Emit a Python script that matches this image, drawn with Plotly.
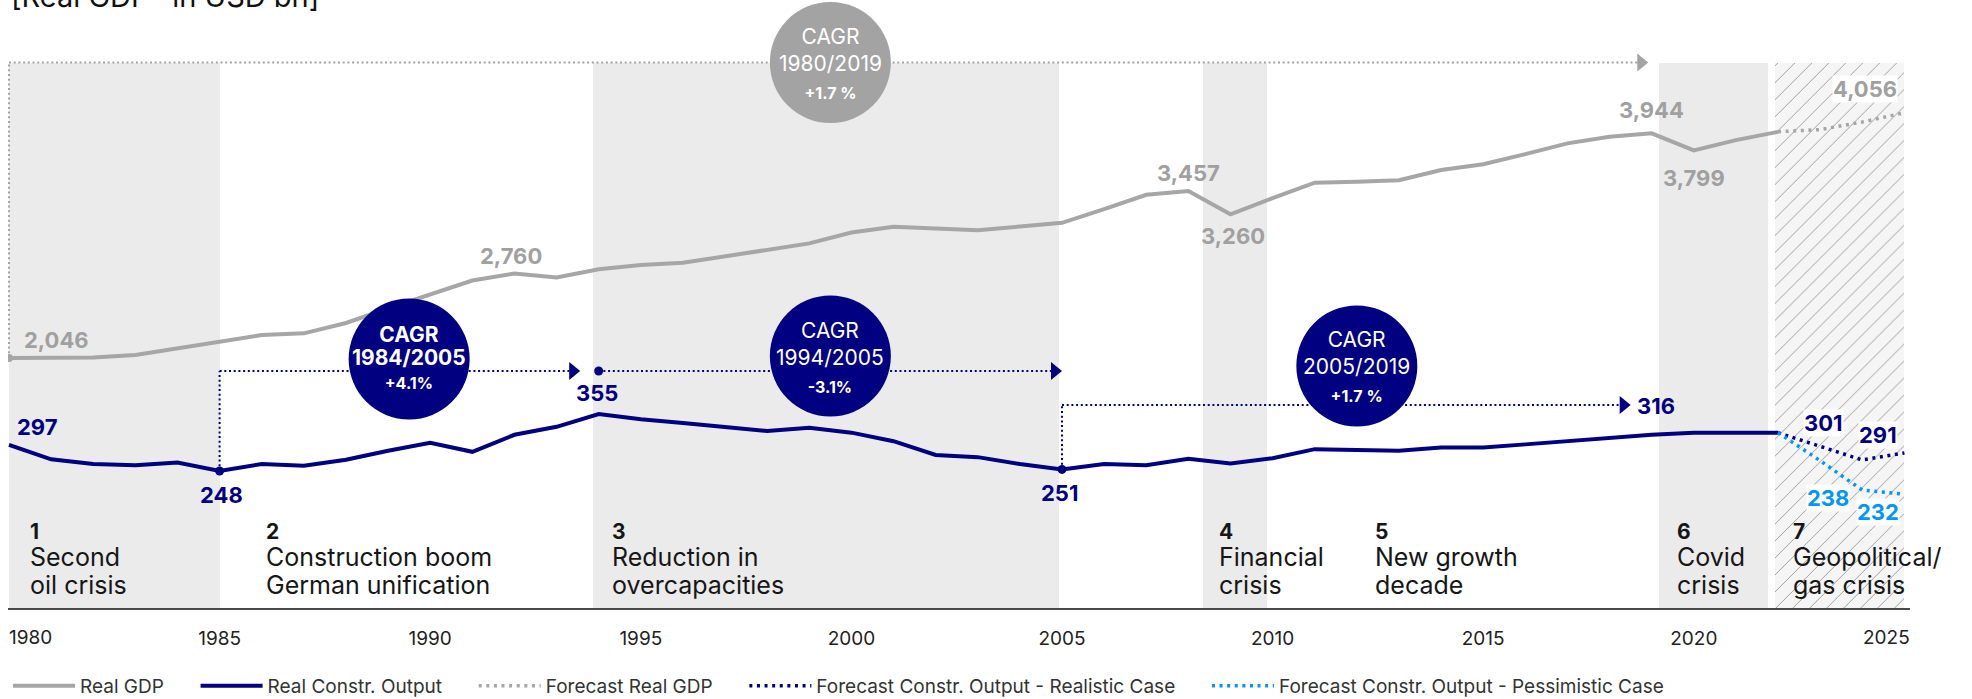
import plotly.graph_objects as go

# ---------------- data ----------------
years = list(range(1980, 2023))
real_gdp = [2046, 2046, 2050, 2071, 2128, 2184, 2240, 2254, 2342, 2465,
            2585, 2700, 2760, 2727, 2795, 2831, 2850, 2907, 2963, 3014,
            3106, 3154, 3140, 3126, 3157, 3188, 3303, 3425, 3457, 3260,
            3396, 3527, 3535, 3547, 3634, 3682, 3768, 3859, 3915, 3944,
            3799, 3886, 3956]
real_constr = [297, 270, 261, 259, 264, 248, 261, 258, 269, 286,
               301, 284, 316, 331, 355, 345, 338, 331, 323, 329,
               320, 304, 278, 274, 261, 251, 261, 259, 271, 262,
               272, 289, 288, 286, 292, 292, 298, 304, 310, 316,
               320, 320, 320]
fc_years = [2022, 2023, 2024, 2025]
fc_gdp = [3956, 3967, 4007, 4056]
fc_realistic = [320, 301, 281, 291]
fc_pessimistic = [320, 280, 238, 232]

tick_years = [1980, 1985, 1990, 1995, 2000, 2005, 2010, 2015, 2020, 2025]

phase_numbers = ["1", "2", "3", "4", "5", "6", "7"]
phase_lines = [["Second", "oil crisis"], ["Construction boom", "German unification"],
               ["Reduction in", "overcapacities"], ["Financial", "crisis"],
               ["New growth", "decade"], ["Covid", "crisis"], ["Geopolitical/", "gas crisis"]]
band_from = [1980.0, 1993.86, 2008.35, 2019.17, 2021.92]
band_to = [1985.0, 2004.93, 2009.87, 2021.76, 2025.0]
band_hatched = [False, False, False, False, True]

cagr_periods = ["1980/2019", "1984/2005", "1994/2005", "2005/2019"]
cagr_values = ["+1.7 %", "+4.1%", "-3.1%", "+1.7 %"]
cagr_from = [1980, 1985, 1994, 2005]
cagr_to = [2019, 1994, 2005, 2019]

gdp_label_years = [1980, 1992, 2008, 2009, 2019, 2020]
constr_label_years = [1980, 1985, 1994, 2005]

legend_names = ["Real GDP", "Real Constr. Output", "Forecast Real GDP",
                "Forecast Constr. Output - Realistic Case",
                "Forecast Constr. Output - Pessimistic Case"]
title_text = "[Real GDP* in USD bn]"

# ---------------- layout / style ----------------
W, H = 1972, 699
ML, MR, MT, MB = 8, 62, 0, 91
PW, PH = W - ML - MR, H - MT - MB
X_RANGE = [1979.976, 2025.133]
PX_PER_YEAR = PW / (X_RANGE[1] - X_RANGE[0])

FONT = "Inter, Lato, sans-serif"
NAVY = "#000080"
LIGHT = "#0096FF"
GRAY_LINE = "#A6A6A6"
GRAY_TXT = "#A0A0A0"
GRAY_CIRCLE = "#A3A3A3"
BAND = "#EBEBEB"
HATCH_BG = "#F5F5F5"
HATCH_FG = "#C4C4C4"
TXT = "#161616"

# axis calibrations: (value, pixel row, pixels per unit)
CAL_GDP = (2046, 358.0, 0.11839)
CAL_CON = (248, 471.0, 0.5327)
CAL_GDP_FC = (3956, 131.7, 0.19)
CAL_CON_FC = (320, 432.7, 0.70)


def rng(cal):
    v0, p0, k = cal
    return [v0 - (MT + PH - p0) / k, v0 + (p0 - MT) / k]


def to_px(v, cal):
    v0, p0, k = cal
    return p0 - (v - v0) * k


def py(p):
    return 1 - (p - MT) / PH


def yrs(px):
    return px / PX_PER_YEAR


BAND_TOP_PX = 62.5
fig = go.Figure()

# shaded phases
fig.add_trace(go.Bar(
    x=[(a + b) / 2 for a, b in zip(band_from, band_to)],
    y=[py(BAND_TOP_PX)] * len(band_from),
    width=[b - a for a, b in zip(band_from, band_to)],
    base=0,
    marker=dict(color=[HATCH_BG if h else BAND for h in band_hatched],
                line=dict(width=0),
                pattern=dict(shape=["/" if h else "" for h in band_hatched],
                             fgcolor=HATCH_FG, size=12, solidity=0.08,
                             fillmode="overlay")),
    showlegend=False, hoverinfo="skip", yaxis="y"))

DOT_TRACE = "3px,4.6px"
PAD = "\u00a0" * 5
fig.add_trace(go.Scatter(x=years, y=real_gdp, mode="lines", name=legend_names[0] + PAD,
                         line=dict(color=GRAY_LINE, width=4), yaxis="y2"))
fig.add_trace(go.Scatter(x=years, y=real_constr, mode="lines", name=legend_names[1] + PAD,
                         line=dict(color=NAVY, width=4), yaxis="y3"))
fig.add_trace(go.Scatter(x=fc_years, y=fc_gdp, mode="lines", name=legend_names[2] + PAD,
                         line=dict(color=GRAY_LINE, width=3.5, dash=DOT_TRACE), yaxis="y4"))
fig.add_trace(go.Scatter(x=fc_years, y=fc_realistic, mode="lines", name=legend_names[3] + PAD,
                         line=dict(color=NAVY, width=3.5, dash=DOT_TRACE), yaxis="y5"))
fig.add_trace(go.Scatter(x=fc_years, y=fc_pessimistic, mode="lines", name=legend_names[4],
                         line=dict(color=LIGHT, width=3.5, dash=DOT_TRACE), yaxis="y5"))

# start markers of CAGR arrows
fig.add_trace(go.Scatter(x=[cagr_from[0]], y=[real_gdp[years.index(cagr_from[0])]],
                         mode="markers", marker=dict(color=GRAY_LINE, size=8),
                         showlegend=False, hoverinfo="skip", yaxis="y2"))
fig.add_trace(go.Scatter(x=[cagr_from[1], cagr_from[3]],
                         y=[real_constr[years.index(cagr_from[1])], real_constr[years.index(cagr_from[3])]],
                         mode="markers", marker=dict(color=NAVY, size=9),
                         showlegend=False, hoverinfo="skip", yaxis="y3"))

# ---------------- CAGR arrows & circles ----------------
shapes = []
DOT_DECOR = "2px,2.7px"
cagr_level_px = [62.5, 371.0, 371.0, 405.0]
cagr_circle_px = [62.5, 359.0, 356.0, 366.0]
cagr_tip_gap_px = [3.4, 18.5, 0.0, 21.0]
cagr_start_px = [to_px(real_gdp[years.index(cagr_from[0])], CAL_GDP),
                 to_px(real_constr[years.index(cagr_from[1])], CAL_CON),
                 None,
                 to_px(real_constr[years.index(cagr_from[3])], CAL_CON)]
cagr_colors = [GRAY_CIRCLE, NAVY, NAVY, NAVY]
ARROW_W, ARROW_H = 11, 9
R = 60.5
for i in range(4):
    col = cagr_colors[i]
    lvl = py(cagr_level_px[i])
    tip = cagr_to[i] - yrs(cagr_tip_gap_px[i])
    if cagr_start_px[i] is not None:
        shapes.append(dict(type="line", xref="x", yref="paper", x0=cagr_from[i], x1=cagr_from[i],
                           y0=py(cagr_start_px[i]), y1=lvl, layer="above",
                           line=dict(color=col, width=2, dash=DOT_DECOR)))
    else:
        shapes.append(dict(type="circle", xref="x", yref="paper", xsizemode="pixel", ysizemode="pixel",
                           xanchor=cagr_from[i], yanchor=lvl, x0=-4.5, x1=4.5, y0=-4.5, y1=4.5,
                           fillcolor=col, line=dict(width=0), layer="above"))
    shapes.append(dict(type="line", xref="x", yref="paper", x0=cagr_from[i], x1=tip - yrs(ARROW_W),
                       y0=lvl, y1=lvl, layer="above", line=dict(color=col, width=2, dash=DOT_DECOR)))
    shapes.append(dict(type="path", xref="x", yref="paper", xsizemode="pixel", ysizemode="pixel",
                       xanchor=tip, yanchor=lvl,
                       path=f"M0,0 L{-ARROW_W},{ARROW_H} L{-ARROW_W},{-ARROW_H} Z",
                       fillcolor=col, line=dict(width=0), layer="above"))
for i in range(4):
    cx = (cagr_from[i] + cagr_to[i]) / 2
    shapes.append(dict(type="circle", xref="x", yref="paper", xsizemode="pixel", ysizemode="pixel",
                       xanchor=cx, yanchor=py(cagr_circle_px[i]), x0=-R, x1=R, y0=-R, y1=R,
                       fillcolor=cagr_colors[i], line=dict(width=0), layer="above"))

annotations = []
cagr_text_dy = [0.5, -1.7, 1.0, 1.0]
for i in range(4):
    cx = (cagr_from[i] + cagr_to[i]) / 2
    if i == 1:
        txt = (f"<b><span style='font-size:21px'>CAGR</span></b><br>"
               f"<b><span style='font-size:21px'>{cagr_periods[i]}</span></b><br>"
               f"<b><span style='font-size:16px'>{cagr_values[i]}</span></b>")
        base = 18
    else:
        txt = (f"CAGR<br>{cagr_periods[i]}<br>"
               f"<b><span style='font-size:16px'>{cagr_values[i]}</span></b>")
        base = 21
    annotations.append(dict(x=cx, y=py(cagr_circle_px[i] + cagr_text_dy[i]), xref="x", yref="paper",
                            text=txt, showarrow=False, xanchor="center", yanchor="middle",
                            font=dict(family=FONT, size=base, color="white")))

# ---------------- value labels ----------------


def label(x, y, yref, text, color, dx, dy, bg=None):
    d = dict(x=x, y=y, xref="x", yref=yref, text=f"<b>{text}</b>", showarrow=False,
             xshift=dx, yshift=dy, font=dict(family=FONT, size=22, color=color),
             xanchor="center", yanchor="middle")
    if bg:
        d.update(bgcolor=bg, borderpad=0)
    return d


gdp_offsets = [(47, 18), (-3, 17), (0, 18), (2.5, -21.5), (0, 23), (0, -28)]
for yr, (dx, dy) in zip(gdp_label_years, gdp_offsets):
    v = real_gdp[years.index(yr)]
    annotations.append(label(yr, v, "y2", f"{v:,}", GRAY_TXT, dx, dy))
constr_offsets = [(28, 18), (1.5, -23.5), (-1.5, 21.5), (-2.7, -24)]
for yr, (dx, dy) in zip(constr_label_years, constr_offsets):
    v = real_constr[years.index(yr)]
    annotations.append(label(yr, v, "y3", f"{v:,}", NAVY, dx, dy))
v2019 = real_constr[years.index(2019)]
annotations.append(label(2019, v2019, "y3", f"{v2019:,}", NAVY, 4, 28.5))
annotations.append(label(fc_years[3], fc_gdp[3], "y4", f"{fc_gdp[3]:,}", GRAY_TXT, -39, 24, "white"))
annotations.append(label(fc_years[1], fc_realistic[1], "y5", f"{fc_realistic[1]}", NAVY, 3, 23, "white"))
annotations.append(label(fc_years[3], fc_realistic[3], "y5", f"{fc_realistic[3]}", NAVY, -26, 18, "white"))
annotations.append(label(fc_years[2], fc_pessimistic[2], "y5", f"{fc_pessimistic[2]}", LIGHT, -34, -7.5, "white"))
annotations.append(label(fc_years[3], fc_pessimistic[3], "y5", f"{fc_pessimistic[3]}", LIGHT, -26, -18, "white"))

# ---------------- phase texts (one block per phase) ----------------
phase_text_x = [1980.51, 1986.10, 1994.32, 2008.73, 2012.44, 2019.60, 2022.36]
PHASE_MID_PX = 559.5
for num, lines, x in zip(phase_numbers, phase_lines, phase_text_x):
    txt = f"<b>{num}</b>" + "".join(f"<br><span style='font-size:25px'>{ln}</span>" for ln in lines)
    annotations.append(dict(x=x, y=py(PHASE_MID_PX), xref="x", yref="paper", text=txt, align="left",
                            showarrow=False, xanchor="left", yanchor="middle", xshift=-2,
                            font=dict(family=FONT, size=21, color=TXT)))

# first / last x tick labels kept inside the frame
TICK_PX = 637
annotations.append(dict(x=tick_years[0], y=py(TICK_PX), xref="x", yref="paper", text=str(tick_years[0]),
                        showarrow=False, xanchor="left", yanchor="middle", xshift=-2,
                        font=dict(family=FONT, size=19, color="#222")))
annotations.append(dict(x=X_RANGE[1], y=py(TICK_PX), xref="x", yref="paper", text=str(tick_years[-1]),
                        showarrow=False, xanchor="right", yanchor="middle", xshift=2,
                        font=dict(family=FONT, size=19, color="#222")))

# clipped title (only its lower edge shows, as in the source)
annotations.append(dict(x=(9 - ML) / PW, y=py(-4), xref="paper", yref="paper", text=title_text,
                        showarrow=False, xanchor="left", yanchor="middle",
                        font=dict(family=FONT, size=29, color="#111")))

hidden = dict(visible=False, showgrid=False, zeroline=False, fixedrange=True)
fig.update_layout(
    width=W, height=H, margin=dict(l=ML, r=MR, t=MT, b=MB, pad=0, autoexpand=False),
    paper_bgcolor="white", plot_bgcolor="white",
    font=dict(family=FONT, color=TXT),
    xaxis=dict(range=X_RANGE, showgrid=False, zeroline=False, showline=True,
               linecolor="#4A4A4A", linewidth=2, ticks="outside", ticklen=12,
               tickcolor="rgba(0,0,0,0)", tickvals=tick_years[1:-1],
               tickfont=dict(family=FONT, size=19, color="#222")),
    yaxis=dict(range=[0, 1], **hidden),
    yaxis2=dict(range=rng(CAL_GDP), overlaying="y", **hidden),
    yaxis3=dict(range=rng(CAL_CON), overlaying="y", **hidden),
    yaxis4=dict(range=rng(CAL_GDP_FC), overlaying="y", **hidden),
    yaxis5=dict(range=rng(CAL_CON_FC), overlaying="y", **hidden),
    shapes=shapes, annotations=annotations,
    showlegend=True,
    legend=dict(orientation="h", x=0, xanchor="left", y=py(686), yanchor="middle",
                font=dict(family=FONT, size=19, color="#333"), itemwidth=62,
                bgcolor="rgba(0,0,0,0)", traceorder="normal"),
    bargap=0,
)

fig.write_html("out.html", config={"displayModeBar": False},
               post_script="document.body.style.margin='0px';document.body.style.overflow='hidden';")
